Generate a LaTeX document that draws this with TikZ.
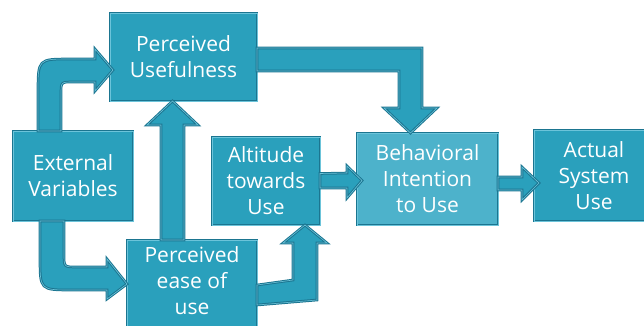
\documentclass[tikz,border=0pt]{standalone}
\usepackage{fontspec}
\setmainfont{Open Sans}
\usetikzlibrary{calc}
\definecolor{tfill}{HTML}{2AA0BC}
\definecolor{tfillb}{HTML}{4DB2CB}
\definecolor{tdark}{HTML}{1B7590}
\definecolor{tline}{HTML}{6CC4DA}
\begin{document}
\begin{tikzpicture}[x=1pt,y=-1pt,
  box/.style={draw=tdark, line width=1.1pt, double=tline, double distance=0.7pt,
    fill=tfill, text=white, align=center, inner sep=0pt, outer sep=0pt,
    font=\fontsize{21}{26}\selectfont},
  barrow/.style={draw=tdark, line width=1pt, double=tline, double distance=0.6pt,
    fill=tfill, line join=miter, miter limit=6}]
\useasboundingbox (0,0) rectangle (644,325);
\clip (0,0) rectangle (644,325);
% boxes
\node[box, minimum width=147pt, minimum height=88pt] (PU) at (183.5,57) {Perceived\\Usefulness};
\node[box, minimum width=120pt, minimum height=90pt] (EV) at (73,176) {External\\Variables};
\node[box, minimum width=108pt, minimum height=88pt] (AT) at (266,181) {Altitude\\towards\\Use};
\node[box, fill=tfillb, minimum width=141pt, minimum height=92pt] (BI) at (427.5,179) {Behavioral\\Intention\\to Use};
\node[box, minimum width=120pt, minimum height=91pt] (AS) at (594,175.5) {Actual\\System\\Use};
\node[box, minimum width=130pt, minimum height=100pt, text depth=18pt] (PE) at (192,290) {Perceived\\ease of\\use};
% External -> Perceived Usefulness
\draw[barrow] ($(EV.north)+(-35,0)$) -- (38,92) .. controls (38,59) .. (70,59) -- (95,59) -- (95,49)
  -- ($(PU.west)+(3,13)$) -- (95,91) -- (95,82) -- (73,82) .. controls (61,82) .. (61,94)
  -- ($(EV.north)+(-12,0)$) -- cycle;
% Perceived ease -> Perceived Usefulness
\draw[barrow] ($(PE.north)+(-31,0)$) -- (161,125) -- (147,125) -- ($(PU.south)+(-11,0)$)
  -- (198,125) -- (184,125) -- ($(PE.north)+(-8,0)$) -- cycle;
% Perceived Usefulness -> Behavioral Intention
\draw[barrow] ($(PU.east)+(0,-9)$) -- (422,48) -- (422,108) -- (437,108) -- ($(BI.north)+(-17,0)$)
  -- (384,108) -- (399,108) -- (399,71) -- ($(PU.east)+(0,14)$) -- cycle;
% External -> Perceived ease
\draw[barrow] ($(EV.south)+(-33,0)$) -- (40,258) .. controls (40,290) .. (72,290) -- (107,290) -- (107,299)
  -- ($(PE.west)+(0,-6)$) -- (107,259) -- (107,267) -- (77,267) .. controls (64,267) .. (64,254)
  -- ($(EV.south)+(-9,0)$) -- cycle;
% Perceived ease -> Altitude
\draw[barrow] ($(PE.east)+(0,-5)$) -- (293,280) -- (293,243) -- (283,243) -- ($(AT.south)+(39,0)$)
  -- (327,243) -- (317,243) -- (317,300) -- ($(PE.east)+(0,15)$) -- cycle;
% Altitude -> Behavioral Intention
\draw[barrow] ($(AT.east)+(0,-7.5)$) -- (347,173) -- (347,166) -- ($(BI.west)+(5,1.5)$)
  -- (347,198) -- (347,188) -- ($(AT.east)+(0,7)$) -- cycle;
% Behavioral Intention -> Actual System Use
\draw[barrow] ($(BI.east)+(0,-2)$) -- (522,177) -- (522,167) -- ($(AS.west)+(5,7.5)$)
  -- (522,200) -- (522,190) -- ($(BI.east)+(0,11)$) -- cycle;
\end{tikzpicture}
\end{document}
